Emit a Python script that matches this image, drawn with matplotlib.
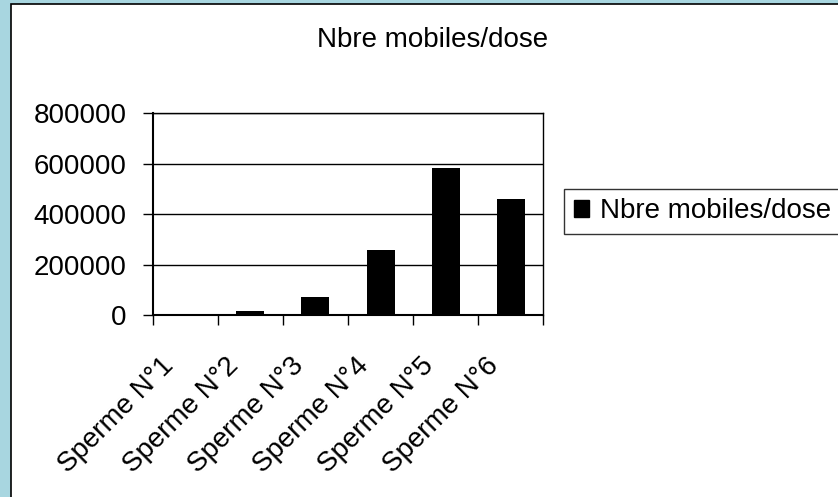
import matplotlib
matplotlib.use("Agg")
import matplotlib.pyplot as plt
import matplotlib.transforms as mtransforms
from matplotlib.patches import Rectangle, Patch

plt.rcParams['font.family'] = ['Liberation Sans', 'DejaVu Sans']

categories = ["Sperme N°1", "Sperme N°2", "Sperme N°3", "Sperme N°4", "Sperme N°5", "Sperme N°6"]
values = [800, 16000, 72000, 257000, 582000, 459000]
series_name = "Nbre mobiles/dose"
title = "Nbre mobiles/dose"
yticks = [0, 200000, 400000, 600000, 800000]

W, H = 838, 497
fig = plt.figure(figsize=(W / 100, H / 100), dpi=100)
fig.patch.set_facecolor('#a8d6e0')

# background axes holding the white chart area with black border
bg = fig.add_axes([0, 0, 1, 1], zorder=-10)
bg.set_xlim(0, W)
bg.set_ylim(H, 0)
bg.axis('off')
bg.add_patch(Rectangle((10.5, 3.5), W + 20, H + 20, facecolor='white',
                       edgecolor='black', linewidth=1.2))

ax = fig.add_axes([152.7 / W, (H - 315) / H, (543.3 - 152.7) / W, (315 - 113.3) / H], zorder=1)
ax.set_facecolor('white')
x = list(range(len(categories)))
ax.bar(x, values, width=0.43, color='black', zorder=3, label=series_name)

ax.set_xlim(-0.5, len(categories) - 0.5)
ax.set_ylim(0, 800000)
ax.set_yticks(yticks)
ax.set_yticklabels([str(v) for v in yticks])
ax.yaxis.grid(True, color='black', linewidth=1.0, zorder=1)
ax.set_axisbelow(True)

ax.set_xticks(x)
ax.set_xticklabels(categories, rotation=45, ha='right', rotation_mode='anchor')
ax.set_xticks([i - 0.5 for i in range(len(categories) + 1)], minor=True)
ax.tick_params(axis='x', which='major', length=0, pad=26, labelsize=20)
ax.tick_params(axis='x', which='minor', length=7, width=1, color='black', direction='out')
ax.tick_params(axis='y', length=7, width=1, direction='out', pad=12, labelsize=20)
offset = mtransforms.ScaledTranslation(-25 / 100, -2 / 100, fig.dpi_scale_trans)
for lbl in ax.get_xticklabels():
    lbl.set_transform(lbl.get_transform() + offset)
for s in ax.spines.values():
    s.set_color('black')
    s.set_linewidth(1.0)
ax.spines['left'].set_linewidth(1.5)
ax.spines['bottom'].set_linewidth(1.5)

fig.text(316.7 / W, 1 - 46.7 / H, title, fontsize=20, ha='left', va='baseline')

leg = fig.legend(handles=[Patch(facecolor='black', edgecolor='black', label=series_name)],
                 loc='lower left', bbox_to_anchor=(564 / W, 1 - 234 / H),
                 bbox_transform=fig.transFigure, fontsize=20, frameon=True,
                 fancybox=False, shadow=False, handlelength=0.55, handleheight=0.55,
                 handletextpad=0.4, borderpad=0.35, borderaxespad=0)
leg.get_frame().set_edgecolor('black')
leg.get_frame().set_linewidth(1.0)

fig.savefig('out.png', dpi=100, facecolor=fig.get_facecolor())
